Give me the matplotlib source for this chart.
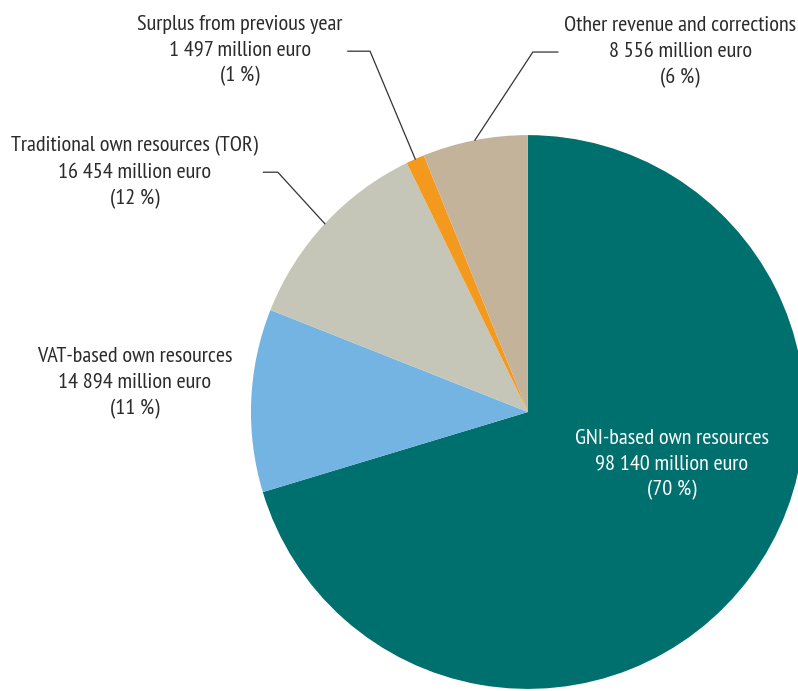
import numpy as np
import matplotlib
matplotlib.use("Agg")
import matplotlib.pyplot as plt

plt.rcParams['font.family'] = ['PT Sans Narrow', 'Fira Sans Condensed', 'DejaVu Sans']

# revenue by source, million euro (clockwise from 12 o'clock)
sources = ["GNI-based own resources", "VAT-based own resources",
           "Traditional own resources (TOR)", "Surplus from previous year",
           "Other revenue and corrections"]
amounts = [98140, 14894, 16454, 1497, 8556]
amount_labels = ["98 140", "14 894", "16 454", "1 497", "8 556"]
shares = [70, 11, 12, 1, 6]
colors = ["#00706e", "#74b4e2", "#c6c6b8", "#f39a1e", "#c4b39b"]

fig = plt.figure(figsize=(7.98, 6.91), dpi=100)
ax = fig.add_axes([0.3145, 0.0029, 0.694, 0.8017])
wedges, _ = ax.pie(amounts, colors=colors, startangle=90, counterclock=False,
                   wedgeprops=dict(linewidth=0))
ax.set_xlim(-1, 1)
ax.set_ylim(-1, 1)
ax.set_aspect('equal')

txt_color = "#2b2b2b"
fs = 16

def label(i):
    return f"{sources[i]}\n{amount_labels[i]} million euro\n({shares[i]} %)"

# label positions (data coords)
place = {
    0: (0.52, -0.19),
    1: (-1.42, 0.105),
    2: (-1.42, 0.866),
    3: (-1.04, 1.305),
    4: (0.55, 1.30),
}
for i, (x, y) in place.items():
    ax.text(x, y, label(i), ha='center', va='center', fontsize=fs,
            color='white' if i == 0 else txt_color, linespacing=1.45,
            clip_on=False)

# leader lines: from wedge edge (mid angle) to elbow, then horizontal
leaders = {2: ((-0.903, 0.866), (-0.955, 0.866)),
           3: ((-0.570, 1.303), (-0.650, 1.303)),
           4: ((0.018, 1.300), (0.108, 1.300))}
for i, (elbow, end) in leaders.items():
    w = wedges[i]
    ang = np.deg2rad((w.theta1 + w.theta2) / 2)
    px, py = np.cos(ang), np.sin(ang)
    ax.plot([px, elbow[0], end[0]], [py, elbow[1], end[1]],
            color='#333333', lw=0.9, clip_on=False)

fig.savefig("out.png", dpi=100, facecolor='white')
